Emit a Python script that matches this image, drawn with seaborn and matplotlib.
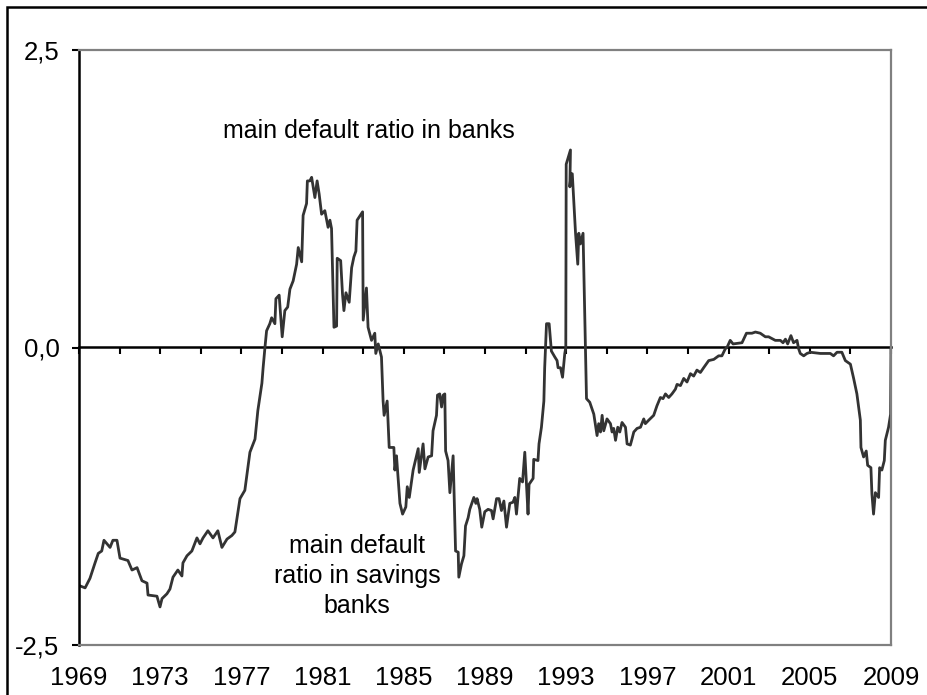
import numpy as np
import pandas as pd
import matplotlib
matplotlib.use("Agg")
import matplotlib.pyplot as plt
from matplotlib.patches import Rectangle
import seaborn as sns

# values (decimal year, ratio)
years = [
    1969.00, 1969.30, 1969.54, 1969.79, 1969.95, 1970.12, 1970.23, 1970.53, 1970.67, 1970.87,
    1971.02, 1971.41, 1971.61, 1971.86, 1972.10, 1972.35, 1972.40, 1972.84, 1972.99, 1973.09,
    1973.33, 1973.48, 1973.63, 1973.87, 1974.07, 1974.12, 1974.32, 1974.56, 1974.81, 1974.96,
    1975.11, 1975.35, 1975.60, 1975.84, 1976.04, 1976.29, 1976.53, 1976.68, 1976.78, 1976.93,
    1977.17, 1977.42, 1977.67, 1977.81, 1978.01, 1978.07, 1978.16, 1978.24, 1978.40, 1978.49,
    1978.65, 1978.70, 1978.86, 1979.01, 1979.14, 1979.28, 1979.39, 1979.55, 1979.72, 1979.80,
    1979.97, 1980.04, 1980.21, 1980.25, 1980.37, 1980.46, 1980.62, 1980.73, 1980.83, 1980.95,
    1981.11, 1981.27, 1981.36, 1981.44, 1981.56, 1981.69, 1981.72, 1981.89, 1981.98, 1982.05,
    1982.15, 1982.31, 1982.43, 1982.54, 1982.64, 1982.70, 1982.97, 1983.00, 1983.16, 1983.24,
    1983.41, 1983.57, 1983.62, 1983.74, 1983.90, 1983.98, 1984.03, 1984.18, 1984.28, 1984.51,
    1984.56, 1984.64, 1984.81, 1984.94, 1985.10, 1985.17, 1985.27, 1985.46, 1985.71, 1985.76,
    1985.95, 1986.04, 1986.20, 1986.37, 1986.44, 1986.61, 1986.66, 1986.77, 1986.86, 1986.94,
    1987.02, 1987.06, 1987.18, 1987.27, 1987.43, 1987.55, 1987.68, 1987.71, 1987.84, 1987.96,
    1988.04, 1988.17, 1988.25, 1988.45, 1988.55, 1988.61, 1988.74, 1988.84, 1988.99, 1989.15,
    1989.32, 1989.40, 1989.57, 1989.69, 1989.81, 1989.93, 1990.06, 1990.22, 1990.38, 1990.47,
    1990.55, 1990.71, 1990.85, 1990.96, 1991.12, 1991.17, 1991.37, 1991.40, 1991.61, 1991.66,
    1991.78, 1991.90, 1991.94, 1992.03, 1992.16, 1992.27, 1992.44, 1992.55, 1992.60, 1992.72,
    1992.82, 1992.93, 1992.98, 1993.00, 1993.21, 1993.18, 1993.24, 1993.30, 1993.46, 1993.57,
    1993.62, 1993.70, 1993.83, 1993.95, 1994.00, 1994.16, 1994.36, 1994.52, 1994.60, 1994.69,
    1994.77, 1994.85, 1995.01, 1995.18, 1995.26, 1995.34, 1995.43, 1995.54, 1995.64, 1995.75,
    1995.92, 1996.00, 1996.16, 1996.24, 1996.33, 1996.49, 1996.66, 1996.82, 1996.90, 1997.07,
    1997.31, 1997.47, 1997.64, 1997.77, 1997.89, 1998.05, 1998.21, 1998.38, 1998.46, 1998.63,
    1998.79, 1998.95, 1999.12, 1999.28, 1999.44, 1999.61, 1999.77, 2000.02, 2000.27, 2000.51,
    2000.67, 2000.84, 2000.92, 2001.08, 2001.22, 2001.66, 2001.88, 2002.15, 2002.32, 2002.56,
    2002.81, 2002.97, 2003.30, 2003.55, 2003.68, 2003.80, 2003.91, 2004.07, 2004.20, 2004.37,
    2004.45, 2004.53, 2004.70, 2004.86, 2005.03, 2005.52, 2006.01, 2006.17, 2006.34, 2006.58,
    2006.75, 2007.00, 2007.16, 2007.32, 2007.49, 2007.52, 2007.65, 2007.78, 2007.85, 2008.01,
    2008.06, 2008.14, 2008.23, 2008.39, 2008.44, 2008.55, 2008.67, 2008.72, 2008.88, 2008.98,
    2009.00,
]
ratio = [
    -2.00, -2.02, -1.94, -1.81, -1.73, -1.71, -1.62, -1.68, -1.62, -1.62,
    -1.77, -1.79, -1.87, -1.85, -1.96, -1.98, -2.08, -2.09, -2.18, -2.11,
    -2.07, -2.03, -1.93, -1.87, -1.92, -1.81, -1.75, -1.71, -1.60, -1.65,
    -1.60, -1.54, -1.60, -1.54, -1.68, -1.61, -1.58, -1.55, -1.44, -1.27,
    -1.20, -0.88, -0.77, -0.53, -0.30, -0.17, 0.00, 0.14, 0.20, 0.25,
    0.20, 0.41, 0.44, 0.09, 0.31, 0.34, 0.49, 0.56, 0.70, 0.84,
    0.72, 1.11, 1.21, 1.40, 1.40, 1.43, 1.26, 1.40, 1.29, 1.12,
    1.15, 1.01, 1.07, 1.00, 0.17, 0.18, 0.75, 0.73, 0.45, 0.31,
    0.46, 0.38, 0.67, 0.76, 0.81, 1.07, 1.14, 0.23, 0.50, 0.17,
    0.06, 0.12, -0.05, 0.03, -0.08, -0.45, -0.57, -0.45, -0.84, -0.84,
    -1.03, -0.91, -1.31, -1.40, -1.34, -1.17, -1.26, -1.03, -0.85, -1.05,
    -0.81, -1.02, -0.92, -0.91, -0.70, -0.57, -0.40, -0.39, -0.50, -0.40,
    -0.39, -0.87, -0.95, -1.22, -0.91, -1.71, -1.72, -1.93, -1.82, -1.75,
    -1.50, -1.43, -1.36, -1.26, -1.31, -1.27, -1.36, -1.51, -1.38, -1.36,
    -1.37, -1.44, -1.27, -1.27, -1.37, -1.29, -1.51, -1.31, -1.30, -1.26,
    -1.40, -1.10, -1.13, -0.88, -1.40, -1.15, -1.10, -0.94, -0.95, -0.81,
    -0.67, -0.45, -0.17, 0.20, 0.20, -0.03, -0.08, -0.11, -0.17, -0.17,
    -0.25, -0.05, 0.00, 1.54, 1.66, 1.35, 1.46, 1.46, 0.96, 0.70,
    0.96, 0.87, 0.96, -0.03, -0.43, -0.46, -0.56, -0.74, -0.64, -0.71,
    -0.57, -0.70, -0.60, -0.64, -0.71, -0.68, -0.78, -0.67, -0.71, -0.63,
    -0.67, -0.81, -0.82, -0.77, -0.71, -0.68, -0.67, -0.60, -0.64, -0.61,
    -0.57, -0.49, -0.42, -0.43, -0.39, -0.42, -0.39, -0.35, -0.31, -0.32,
    -0.26, -0.29, -0.22, -0.24, -0.19, -0.21, -0.17, -0.11, -0.10, -0.07,
    -0.07, -0.01, 0.00, 0.06, 0.03, 0.04, 0.12, 0.12, 0.13, 0.12,
    0.09, 0.09, 0.06, 0.06, 0.04, 0.07, 0.03, 0.10, 0.04, 0.06,
    -0.01, -0.05, -0.07, -0.05, -0.04, -0.05, -0.05, -0.07, -0.04, -0.04,
    -0.11, -0.14, -0.26, -0.39, -0.61, -0.84, -0.92, -0.87, -0.99, -1.01,
    -1.23, -1.40, -1.22, -1.26, -1.01, -1.03, -0.95, -0.78, -0.67, -0.56,
    0.00,
]

label_years = [1969, 1973, 1977, 1981, 1985, 1989, 1993, 1997, 2001, 2005, 2009]
minor_years = list(range(1969, 2010, 2))
y_ticks = [-2.5, 0.0, 2.5]
y_labels = ["-2,5", "0,0", "2,5"]

df = pd.DataFrame({"year": years, "ratio": ratio})

sns.set_theme(style="white")
plt.rcParams["font.family"] = ["Liberation Sans", "DejaVu Sans"]

fig = plt.figure(figsize=(9.28, 6.95), dpi=100)
ax = fig.add_axes([79 / 928, 1 - 645 / 695, (891 - 79) / 928, (645 - 50) / 695])

sns.lineplot(data=df, x="year", y="ratio", ax=ax, color="#333333",
             linewidth=2.0, sort=False, estimator=None)

ax.set_xlim(1969, 2009)
ax.set_ylim(-2.5, 2.5)
ax.set_xlabel("")
ax.set_ylabel("")

ax.set_yticks(y_ticks)
ax.set_yticklabels(y_labels)
ax.set_xticks(label_years)
ax.set_xticklabels([str(y) for y in label_years])
ax.tick_params(axis="x", length=0, pad=15, labelsize=18.5, colors="black")
ax.tick_params(axis="y", left=True, direction="out", length=5, width=1.5,
               pad=9, labelsize=18.5, colors="black")

for side in ["top", "right", "bottom"]:
    ax.spines[side].set_color("#808080")
    ax.spines[side].set_linewidth(1.6)
ax.spines["left"].set_color("black")
ax.spines["left"].set_linewidth(1.8)

# zero line with its own tick marks every two years
zero = ax.secondary_xaxis(0.5)
zero.set_xticks(minor_years)
zero.set_xticklabels([])
zero.tick_params(direction="in", length=5, width=1.5, colors="black")
for sp in zero.spines.values():
    sp.set_color("black")
    sp.set_linewidth(1.8)

ax.text(1983.3, 1.82, "main default ratio in banks", fontsize=18,
        ha="center", va="center", color="black")
ax.text(1982.7, -1.92, "main default\nratio in savings\nbanks", fontsize=18,
        ha="center", va="center", linespacing=1.3, color="black")

# outer frame, cropped on the right and bottom
fig.patches.append(Rectangle((7 / 928, -0.2), 2, 0.2 + 1 - 7 / 695,
                             transform=fig.transFigure, fill=False,
                             edgecolor="black", linewidth=1.8))

fig.savefig("out.png", dpi=100)
